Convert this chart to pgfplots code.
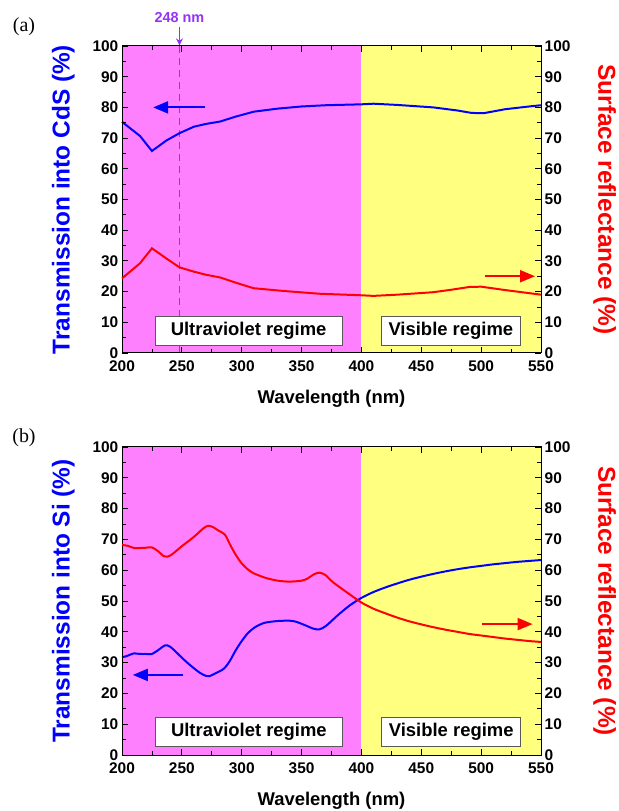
\documentclass[border=0pt]{standalone}
\usepackage{pgfplots}
\pgfplotsset{compat=1.18}
\usepackage{fontspec}
\setmainfont{Liberation Sans}
\newfontfamily\seriffont{Liberation Serif}
\usetikzlibrary{arrows.meta}
\definecolor{uvbg}{RGB}{255,128,255}
\definecolor{visbg}{RGB}{255,255,128}
\definecolor{vio}{RGB}{150,50,245}
\definecolor{lblue}{RGB}{0,0,255}
\definecolor{lred}{RGB}{255,0,0}

\tikzset{
 curve/.style={line width=2pt},
 arr/.style={line width=2pt, -{Triangle[length=15bp,width=12bp]}},
 regbox/.style={draw=gray!70!black, fill=white, line width=0.6pt, minimum height=29bp, inner sep=0pt, font=\bfseries\fontsize{18.5}{18.5}\selectfont},
}
\pgfplotsset{
 base/.style={
  scale only axis, width=419bp, height=307bp,
  xmin=200,xmax=550,ymin=0,ymax=100,
  xtick={200,250,...,550}, ytick={0,10,...,100},
  minor x tick num=1, minor y tick num=1,
  tick align=inside,
  major tick length=6bp, minor tick length=4bp,
  tick style={line width=0.8pt, black},
  axis line style={line width=1pt},
  /pgf/number format/assume math mode=true,
  tick label style={font=\bfseries\fontsize{15.5}{15.5}\selectfont},
  clip=false,
 },
 leftax/.style={base, axis on top,
  ytick pos=left, xtick pos=both,
  xticklabel style={yshift=-7bp, inner sep=0.5bp},
  yticklabel style={xshift=-3bp, inner sep=0.5bp},
  xlabel={Wavelength (nm)},
  xlabel style={at={(axis description cs:0.5,-0.15)}, anchor=center, font=\bfseries\fontsize{18.5}{18.5}\selectfont},
  ylabel style={at={(axis description cs:-0.14,0.5)}, anchor=center, font=\bfseries\fontsize{24.5}{24.5}\selectfont, text=lblue},
 },
 rightax/.style={base, axis x line=none, axis y line*=right, ytick pos=right,
  yticklabel style={xshift=3bp, inner sep=0.5bp},
  ylabel={Surface reflectance (\%)},
  ylabel style={at={(axis description cs:1.152,0.5)}, anchor=center, rotate=180, font=\bfseries\fontsize{24.5}{24.5}\selectfont, text=lred},
 },
}

\begin{document}
\begin{tikzpicture}
\useasboundingbox (0,0) rectangle (619bp,811bp);
\node[font=\seriffont\fontsize{20}{20}\selectfont] at (24bp,784bp) {(a)};
\node[font=\seriffont\fontsize{20}{20}\selectfont] at (24bp,373bp) {(b)};

% ---------------- panel (a) ----------------
\begin{axis}[leftax, at={(122bp,458bp)}, anchor=south west,
  ylabel={Transmission into CdS (\%)}]
\fill[uvbg] (axis cs:200,0) rectangle (axis cs:400,100);
\fill[visbg] (axis cs:400,0) rectangle (axis cs:550,100);
\draw[vio, line width=1.4pt, dash pattern=on 7bp off 5bp] (axis cs:248,0) -- (axis cs:248,100);
\draw[vio, line width=1.4pt, -{Stealth[length=7bp,width=7bp]}] (axis cs:248,106.3) -- (axis cs:248,100.2);
\node[vio, font=\bfseries\fontsize{14.5}{14.5}\selectfont] at (axis cs:248,109.3) {248 nm};
\addplot[curve, lblue] coordinates {
(200,75.3) (215,70.7) (225,65.8) (237,69.2) (248,71.6) (260,73.7) (270,74.6) (282,75.4)
(295,77.0) (310,78.6) (330,79.6) (350,80.3) (370,80.7) (400,81.0) (410,81.2)
(430,80.8) (460,80.0) (480,79.0) (492,78.2) (502,78.1) (520,79.4) (540,80.3) (550,80.7)};
\addplot[arr, lblue] coordinates {(269,80) (226,80)};
\node[regbox, minimum width=187bp] at (axis cs:305.8,7.3) {Ultraviolet regime};
\node[regbox, minimum width=139bp] at (axis cs:474.7,7.3) {Visible regime};
\end{axis}
\begin{axis}[rightax, at={(122bp,458bp)}, anchor=south west]
\addplot[curve, lred] coordinates {
(200,24.3) (215,29.2) (225,34.1) (237,30.8) (248,27.9) (260,26.5) (270,25.5) (282,24.6)
(295,22.9) (310,21.1) (335,20.2) (365,19.3) (400,18.8) (410,18.6) (430,19.0)
(460,19.8) (475,20.6) (490,21.5) (500,21.6) (520,20.5) (550,19.0)};
\addplot[arr, lred] coordinates {(503,25) (545,25)};
\end{axis}

% ---------------- panel (b) ----------------
\begin{axis}[leftax, at={(122bp,56bp)}, anchor=south west, height=308bp,
  ylabel={Transmission into Si (\%)}]
\fill[uvbg] (axis cs:200,0) rectangle (axis cs:400,100);
\fill[visbg] (axis cs:400,0) rectangle (axis cs:550,100);
\addplot[curve, lblue, smooth] coordinates {
(200,31.8) (203,32.0) (207,32.6) (210,33.0) (215,32.8) (220,32.8) (225,32.8) (230,34.0)
(236,35.6) (240,35.2) (245,33.5) (250,31.6) (255,29.8) (260,28.2) (265,26.7) (270,25.7)
(273,25.6) (278,26.5) (285,28.0) (290,30.5) (295,34.0) (300,37.0) (305,39.5) (310,41.2)
(315,42.3) (320,43.0) (330,43.5) (340,43.6) (345,43.3) (350,42.6) (355,41.8) (360,41.0)
(365,40.8) (370,41.8) (375,43.5) (380,45.3) (390,48.5) (400,51.0) (410,52.9) (420,54.4)
(430,55.7) (440,56.9) (450,57.9) (460,58.8) (470,59.6) (480,60.3) (490,60.9) (500,61.4)
(510,61.9) (520,62.3) (530,62.7) (540,63.0) (550,63.3)};
\addplot[arr, lblue] coordinates {(251,26) (209,26)};
\node[regbox, minimum width=187bp] at (axis cs:306,7.4) {Ultraviolet regime};
\node[regbox, minimum width=139bp] at (axis cs:475,7.4) {Visible regime};
\end{axis}
\begin{axis}[rightax, at={(122bp,56bp)}, anchor=south west, height=308bp]
\addplot[curve, lred, smooth] coordinates {
(200,68.2) (205,67.9) (210,67.2) (215,67.2) (220,67.3) (225,67.4) (230,66.2) (235,64.5)
(238,64.4) (242,65.2) (250,67.8) (260,70.8) (268,73.6) (272,74.4) (276,74.0) (280,73.0)
(286,71.5) (290,68.5) (295,65.0) (300,62.2) (305,60.3) (310,59.0) (320,57.5) (330,56.6)
(340,56.3) (350,56.6) (355,57.3) (360,58.6) (365,59.2) (370,58.4) (375,56.5) (380,55.0)
(390,52.2) (400,49.5) (410,47.5) (420,46.0) (430,44.6) (440,43.4) (450,42.4) (460,41.5)
(470,40.7) (480,40.0) (490,39.3) (500,38.8) (510,38.3) (520,37.8) (530,37.4) (540,37.0) (550,36.7)};
\addplot[arr, lred] coordinates {(501,42.5) (543,42.5)};
\end{axis}
\end{tikzpicture}
\end{document}
